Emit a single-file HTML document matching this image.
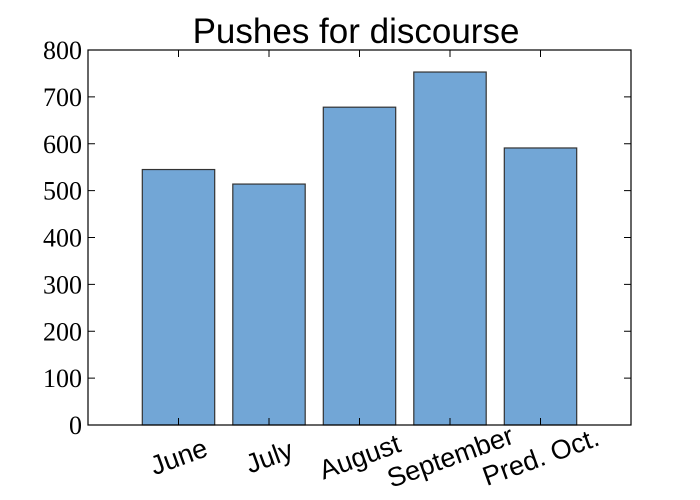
<!DOCTYPE html>
<html><head><meta charset="utf-8"><style>body{margin:0;background:#fff}svg{display:block}</style></head>
<body>
<svg id="chart" width="700" height="500" xmlns="http://www.w3.org/2000/svg">
<rect width="700" height="500" fill="#fff"/>
<text x="356" y="43" text-anchor="middle" font-family="Liberation Sans, sans-serif" font-size="35">Pushes for discourse</text>
<g id="bars"></g>
<g id="axes"></g>
</svg>
<script>
const categories = ["June","July","August","September","Pred. Oct."];
const pushes = [545, 514, 678, 753, 591];
const yTicks = [0,100,200,300,400,500,600,700,800];
const L=88,R=631,T=50,B=425;
const xs = i => L + (i+1)/6*(R-L);
const ys = v => B - v/800*(B-T);
const NS="http://www.w3.org/2000/svg";
const bars=document.getElementById('bars'), axes=document.getElementById('axes');
function mk(tag,attrs,parent){const e=document.createElementNS(NS,tag);for(const k in attrs)e.setAttribute(k,attrs[k]);parent.appendChild(e);return e;}
const bw=0.8/6*(R-L);
pushes.forEach((v,i)=>{
  const r=mk('rect',{x:xs(i)-bw/2,y:ys(v),width:bw,height:ys(0)-ys(v),fill:'#72a6d6',stroke:'#333','stroke-width':1.2},bars);
  
  
});
const frame=mk('rect',{x:L,y:T,width:R-L,height:B-T,fill:'none',stroke:'#000','stroke-width':1.2},axes);


yTicks.forEach(t=>{
  const y=ys(t);
  mk('line',{x1:L,x2:L+7,y1:y,y2:y,stroke:'#000'},axes);
  mk('line',{x1:R,x2:R-7,y1:y,y2:y,stroke:'#000'},axes);
  const tx=mk('text',{x:82,y:y+9,'text-anchor':'end','font-family':'Liberation Serif, serif','font-size':26},axes);
  tx.textContent=t;
  
  
});
categories.forEach((c,i)=>{
  const x=xs(i);
  mk('line',{x1:x,x2:x,y1:B,y2:B-7,stroke:'#000'},axes);
  mk('line',{x1:x,x2:x,y1:T,y2:T+7,stroke:'#000'},axes);
  const tx=mk('text',{x:x,y:466,'text-anchor':'middle','font-family':'Liberation Sans, sans-serif','font-size':27,transform:`rotate(-20 ${x} 456)`},axes);
  tx.textContent=c;
  
  
});
</script>
</body></html>
